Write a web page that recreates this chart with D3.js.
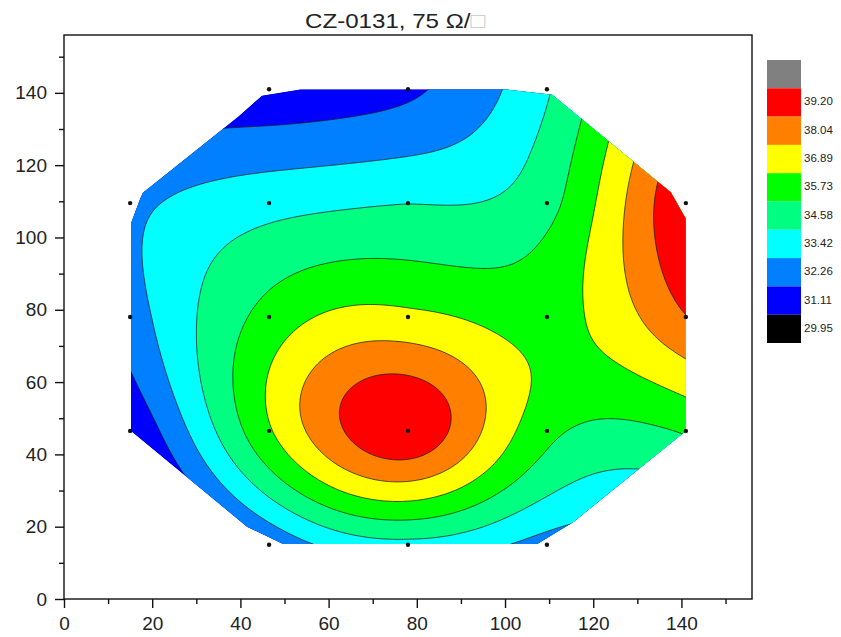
<!DOCTYPE html>
<html>
<head>
<meta charset="utf-8" />
<script src="https://cdnjs.cloudflare.com/ajax/libs/d3/7.8.5/d3.min.js"></script>
<style>
  body { margin: 0; background: #fff; }
  text { font-family: Arial, "Liberation Sans", sans-serif; fill: #222; }
</style>
</head>
<body>
<div id="chart"></div>
<script>
var width = 841, height = 637;

// probe grid (mm)
var xPos = [15, 46.5, 78, 109.5, 141];
var yPos = [15, 46.5, 78, 109.5, 141];
// sheet resistance, one row per yPos (bottom to top); corners were not measured
var sheetRes = [
  [null, 31.2, 33.1, 31.8, null],
  [30.0, 35.6, 39.0, 34.9, 34.7],
  [31.7, 35.0, 36.0, 35.3, 38.0],
  [31.9, 33.0, 33.4, 34.2, 39.2],
  [null, 30.3, 30.9, 33.3, null]
];

var levels = [29.95, 31.11, 32.26, 33.42, 34.58, 35.73, 36.89, 38.04, 39.20];
var levelColors = ["#000000", "#0000ff", "#0080ff", "#00ffff", "#00ff80",
                   "#00ff00", "#ffff00", "#ff8000", "#ff0000", "#808080"];

// outline of the contoured area (mm)
var boundary = [
  [44.9, 139.2], [53.6, 140.9], [100.5, 140.9], [110.7, 139.5], [135.3, 114.8],
  [137.6, 112.5], [141, 105.2], [141, 46.5], [115.6, 21.4], [107.3, 15.2],
  [49.7, 15.2], [41.5, 20], [15.2, 46.5], [15.2, 103.9], [17.3, 110.8],
  [17.9, 112.4], [39.5, 133.4]
];

var xTicks = [0, 20, 40, 60, 80, 100, 120, 140];
var xMinor = [10, 30, 50, 70, 90, 110, 130, 150];
var yTicks = [0, 20, 40, 60, 80, 100, 120, 140];
var yMinor = [10, 30, 50, 70, 90, 110, 130, 150];

var plot = {left: 64, right: 752, top: 35, bottom: 599};

var x = d3.scaleLinear().domain([0, 156]).range([plot.left, plot.right]);
var y = d3.scaleLinear().domain([0, 156]).range([plot.bottom, plot.top]);

var svg = d3.select("#chart").append("svg")
  .attr("width", width)
  .attr("height", height);

// ---- collect probes
var px = [], py = [], pz = [];
sheetRes.forEach(function(row, j) {
  row.forEach(function(v, i) {
    if (v != null) { px.push(xPos[i]); py.push(yPos[j]); pz.push(v); }
  });
});

// ---- thin plate spline through the probes (to get a grid for d3.contours)
function U(r) { return r > 0 ? r * r * Math.log(r) : 0; }

function tpsFit(X, Y, Z) {
  var n = X.length, m = n + 3, i, j, k;
  var A = [], b = [];
  for (i = 0; i < m; i++) { A.push(new Array(m).fill(0)); b.push(0); }
  for (i = 0; i < n; i++) {
    for (j = 0; j < n; j++) {
      A[i][j] = U(Math.hypot((X[i] - X[j]) / 100, (Y[i] - Y[j]) / 100));
    }
    A[i][n] = 1; A[i][n + 1] = X[i] / 100; A[i][n + 2] = Y[i] / 100;
    A[n][i] = 1; A[n + 1][i] = X[i] / 100; A[n + 2][i] = Y[i] / 100;
    b[i] = Z[i];
  }
  // gaussian elimination
  for (k = 0; k < m; k++) {
    var p = k;
    for (i = k + 1; i < m; i++) if (Math.abs(A[i][k]) > Math.abs(A[p][k])) p = i;
    var t = A[k]; A[k] = A[p]; A[p] = t;
    var tb = b[k]; b[k] = b[p]; b[p] = tb;
    for (i = k + 1; i < m; i++) {
      var f = A[i][k] / A[k][k];
      for (j = k; j < m; j++) A[i][j] -= f * A[k][j];
      b[i] -= f * b[k];
    }
  }
  var w = new Array(m).fill(0);
  for (i = m - 1; i >= 0; i--) {
    var s = b[i];
    for (j = i + 1; j < m; j++) s -= A[i][j] * w[j];
    w[i] = s / A[i][i];
  }
  return function(xx, yy) {
    var v = w[n] + w[n + 1] * xx / 100 + w[n + 2] * yy / 100;
    for (var q = 0; q < n; q++) v += w[q] * U(Math.hypot((xx - X[q]) / 100, (yy - Y[q]) / 100));
    return v;
  };
}

var surf = tpsFit(px, py, pz);

var g0 = 8, g1 = 148, step = 0.5;
var nx = Math.round((g1 - g0) / step) + 1;
var values = new Array(nx * nx);
for (var j = 0; j < nx; j++) {
  for (var i = 0; i < nx; i++) {
    values[j * nx + i] = surf(g0 + i * step, g0 + j * step);
  }
}

var contours = d3.contours().size([nx, nx]).thresholds(levels)(values);

var toPixel = d3.geoTransform({
  point: function(cx, cy) {
    this.stream.point(x(g0 + (cx - 0.5) * step), y(g0 + (cy - 0.5) * step));
  }
});
var path = d3.geoPath(toPixel);

svg.append("clipPath").attr("id", "area")
  .append("polygon")
  .attr("points", boundary.map(function(d) { return [x(d[0]), y(d[1])]; }).join(" "));

var map = svg.append("g").attr("clip-path", "url(#area)");

map.append("polygon")
  .attr("points", boundary.map(function(d) { return [x(d[0]), y(d[1])]; }).join(" "))
  .attr("fill", levelColors[0]);

map.selectAll("path.band")
  .data(contours)
  .enter().append("path")
  .attr("class", "band")
  .attr("d", path)
  .attr("fill", function(d, k) { return levelColors[k + 1]; })
  .attr("stroke", "#1a1a1a")
  .attr("stroke-width", 0.75)
  .attr("stroke-linejoin", "round");

// probe dots
svg.selectAll("circle.probe")
  .data(px.map(function(d, k) { return [d, py[k]]; }))
  .enter().append("circle")
  .attr("class", "probe")
  .attr("cx", function(d) { return x(d[0]); })
  .attr("cy", function(d) { return y(d[1]); })
  .attr("r", 2.2)
  .attr("fill", "#111");

// ---- frame and axes
svg.append("rect")
  .attr("x", plot.left).attr("y", plot.top)
  .attr("width", plot.right - plot.left).attr("height", plot.bottom - plot.top)
  .attr("fill", "none").attr("stroke", "#111").attr("stroke-width", 1.4);

svg.append("g").attr("transform", "translate(0," + plot.bottom + ")")
  .call(d3.axisBottom(x).tickValues(xTicks).tickSize(9).tickPadding(9).tickSizeOuter(0));
svg.append("g").attr("transform", "translate(0," + plot.bottom + ")")
  .call(d3.axisBottom(x).tickValues(xMinor).tickSize(5).tickFormat("").tickSizeOuter(0));
svg.append("g").attr("transform", "translate(" + plot.left + ",0)")
  .call(d3.axisLeft(y).tickValues(yTicks).tickSize(9).tickPadding(8).tickSizeOuter(0));
svg.append("g").attr("transform", "translate(" + plot.left + ",0)")
  .call(d3.axisLeft(y).tickValues(yMinor).tickSize(5).tickFormat("").tickSizeOuter(0));

svg.selectAll(".domain").remove();
svg.selectAll(".tick line").attr("stroke", "#111").attr("stroke-width", 1.4);
svg.selectAll(".tick text").attr("font-size", 19).attr("fill", "#222");

// ---- title
var title = svg.append("text")
  .attr("x", 305).attr("y", 28)
  .attr("font-size", 21)
  .attr("textLength", 180)
  .attr("lengthAdjust", "spacingAndGlyphs");
title.append("tspan").text("CZ-0131, 75 \u03A9/");
title.append("tspan").text("\u25A1").attr("fill", "#c8c8c8");

// ---- colour bar
var lg = d3.scaleLinear().domain([0, levelColors.length]).range([60, 343]);
var barColors = levelColors.slice().reverse();
svg.selectAll("rect.key")
  .data(barColors)
  .enter().append("rect")
  .attr("class", "key")
  .attr("x", 767).attr("width", 34)
  .attr("y", function(d, k) { return lg(k); })
  .attr("height", function(d, k) { return lg(k + 1) - lg(k); })
  .attr("fill", function(d) { return d; });

svg.selectAll("text.key")
  .data(levels.slice().reverse())
  .enter().append("text")
  .attr("class", "key")
  .attr("x", 804)
  .attr("y", function(d, k) { return lg(k + 1.5) - 1; })
  .attr("dy", "0.35em")
  .attr("font-size", 11.5)
  .text(function(d) { return d.toFixed(2); });
</script>
</body>
</html>
